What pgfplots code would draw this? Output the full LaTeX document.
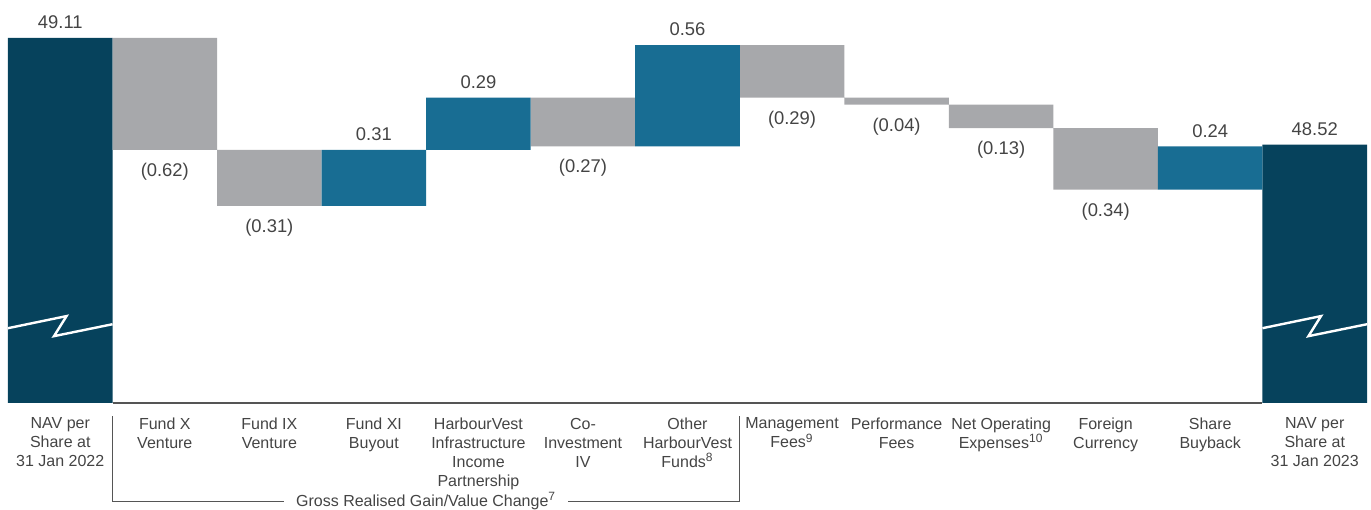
\documentclass[border=0pt]{standalone}
\usepackage{fontspec}
\setmainfont{Liberation Sans}
\usepackage{pgfplots}
\usepackage{pgfplotstable}
\pgfplotsset{compat=1.18}
\definecolor{cNavy}{HTML}{06425C}
\definecolor{cTeal}{HTML}{186D93}
\definecolor{cGray}{HTML}{A7A8AB}
\definecolor{cText}{HTML}{444444}
\definecolor{cLine}{HTML}{555555}

\pgfplotstableread{
x base pos neg tot
0 0 0 0 49.11
1 48.49 0 0.62 0
2 48.18 0 0.31 0
3 48.18 0.31 0 0
4 48.49 0.29 0 0
5 48.51 0 0.27 0
6 48.51 0.56 0 0
7 48.78 0 0.29 0
8 48.74 0 0.04 0
9 48.61 0 0.13 0
10 48.27 0 0.34 0
11 48.27 0.24 0 0
12 0 0 0 48.52
}\bars

\pgfplotstableread{
x y lab
0 49.11 49.11
3 48.49 0.31
4 48.78 0.29
6 49.07 0.56
11 48.51 0.24
12 48.52 48.52
}\toplabels

\pgfplotstableread{
x y lab
1 48.49 (0.62)
2 48.18 (0.31)
5 48.51 (0.27)
7 48.78 (0.29)
8 48.74 (0.04)
9 48.61 (0.13)
10 48.27 (0.34)
}\botlabels

\begin{document}
\begin{tikzpicture}
\pgfplotsset{
  common/.style={
    scale only axis, width=679.5pt, height=182.5pt,
    xmin=-0.5, xmax=12.5, ymin=47.09, ymax=49.11,
    at={(0,0)}, anchor=south west,
  }
}
\begin{axis}[common,
  ybar stacked, bar width=1,
  axis y line=none,
  axis x line*=bottom,
  x axis line style={draw=none},
  xtick={0,...,12},
  major tick length=0pt,
  xticklabels={
    {NAV per\\Share at\\31 Jan 2022},
    {Fund X\\Venture},
    {Fund IX\\Venture},
    {Fund XI\\Buyout},
    {HarbourVest\\Infrastructure\\Income\\Partnership},
    {Co-\\Investment\\IV},
    {Other\\HarbourVest\\Funds\textsuperscript{8}},
    {Management\\Fees\textsuperscript{9}},
    {Performance\\Fees},
    {Net Operating\\Expenses\textsuperscript{10}},
    {Foreign\\Currency},
    {Share\\Buyback},
    {NAV per\\Share at\\31 Jan 2023}},
  xticklabel style={font=\fontsize{8}{9.5}\selectfont, align=center, text=cText, anchor=north, yshift=-4pt},
]
\addplot[draw=none, fill=none] table[x=x, y=base] {\bars};
\addplot[draw=none, fill=cTeal] table[x=x, y=pos] {\bars};
\addplot[draw=none, fill=cGray] table[x=x, y=neg] {\bars};
\addplot[draw=none, fill=cNavy] table[x=x, y=tot] {\bars};
\end{axis}

\begin{axis}[common, hide axis, clip=false]
\addplot[draw=none, mark=none, nodes near coords, point meta=explicit symbolic,
  nodes near coords style={anchor=south, font=\fontsize{9.2}{11}\selectfont, text=cText, yshift=1pt}]
  table[x=x, y=y, meta=lab] {\toplabels};
\addplot[draw=none, mark=none, nodes near coords, point meta=explicit symbolic,
  nodes near coords style={anchor=north, font=\fontsize{9.2}{11}\selectfont, text=cText, yshift=-3pt}]
  table[x=x, y=y, meta=lab] {\botlabels};
% baseline
\draw[cLine, line width=0.6pt] (axis cs:0.5,47.09) -- (axis cs:11.5,47.09);
% break marks
\draw[white, line width=1.2pt] (axis cs:-0.5,47.504) -- (axis cs:0.06,47.571) -- (axis cs:-0.06,47.46) -- (axis cs:0.5,47.526);
\draw[white, line width=1.2pt] (axis cs:11.5,47.504) -- (axis cs:12.06,47.571) -- (axis cs:11.94,47.46) -- (axis cs:12.5,47.526);
% bracket
\draw[cLine, line width=0.5pt] ([yshift=-6.5pt]axis cs:0.5,47.09) -- ([yshift=-49pt]axis cs:0.5,47.09) -- ([yshift=-49pt]axis cs:6.5,47.09) -- ([yshift=-6.5pt]axis cs:6.5,47.09);
\node[fill=white, inner xsep=6pt, inner ysep=0.5pt, text=cText, font=\fontsize{8}{9.5}\selectfont, anchor=center] at ([yshift=-49pt]axis cs:3.5,47.09) {Gross Realised Gain/Value Change\textsuperscript{7}};
\end{axis}
\pgfresetboundingbox
\useasboundingbox (-4pt,-53pt) rectangle (681.5pt,201.5pt);
\end{tikzpicture}
\end{document}
